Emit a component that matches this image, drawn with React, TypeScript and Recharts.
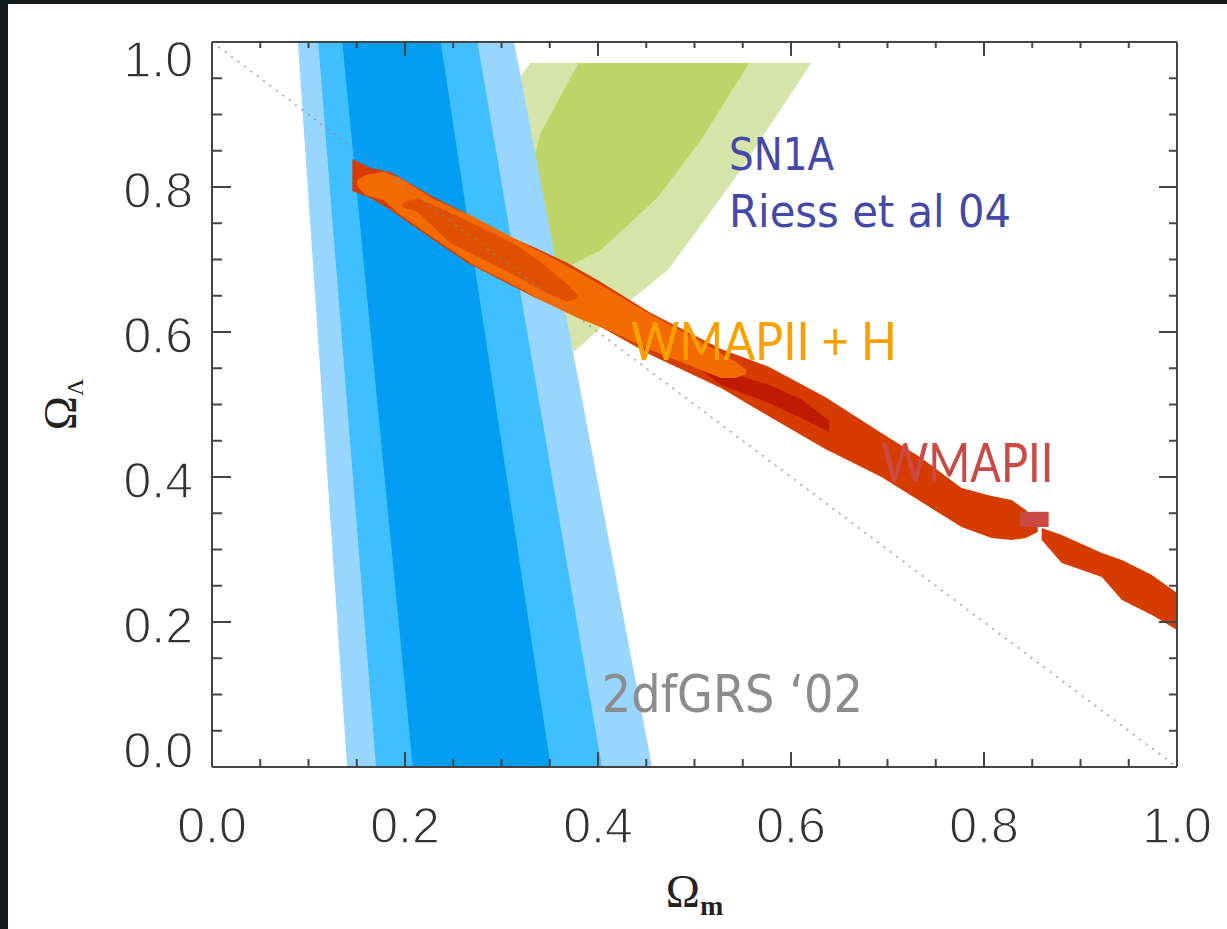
import React from "react";
import { Area, ComposedChart, Label, Line, Scatter, XAxis, YAxis } from "recharts";

// ticks every 0.05, labels on every 0.2 (both axes)
const tickValues = [
  0, 0.05, 0.1, 0.15, 0.2, 0.25, 0.3, 0.35, 0.4, 0.45, 0.5,
  0.55, 0.6, 0.65, 0.7, 0.75, 0.8, 0.85, 0.9, 0.95, 1,
];
const majorTicks = [0, 0.2, 0.4, 0.6, 0.8, 1];

// contour rows: [omega_m, omega_lambda low, omega_lambda high]
type Row = [number, number, number];

// SN1A, Riess et al 04 (2 sigma, 1 sigma)
const snOuter: Row[] = [
  [0.299, 0.917, 0.917], [0.33, 0.776, 0.971], [0.375, 0.572, 0.971],
  [0.434, 0.644, 0.971], [0.4725, 0.6855, 0.971], [0.541, 0.81, 0.971],
  [0.621, 0.971, 0.971],
];
const snInner: Row[] = [
  [0.3146, 0.741, 0.741], [0.3406, 0.7165, 0.8745], [0.3686, 0.69, 0.943],
  [0.38, 0.6975, 0.971], [0.403, 0.713, 0.971], [0.462, 0.786, 0.971],
  [0.5067, 0.865, 0.971], [0.5566, 0.971, 0.971],
];

// 2dFGRS '02 bands (3, 2, 1 sigma)
const grsOuter: Row[] = [[0.089, 1, 1], [0.14, 0, 1], [0.313, 0, 1], [0.456, 0, 0]];
const grsMiddle: Row[] = [[0.11, 1, 1], [0.17, 0, 1], [0.275, 0, 1], [0.404, 0, 0]];
const grsInner: Row[] = [[0.135, 1, 1], [0.208, 0, 1], [0.237, 0, 1], [0.351, 0, 0]];

// WMAPII alone, in two pieces
const wmapLeft: Row[] = [
  [0.1454, 0.7945, 0.8386], [0.1641, 0.7848, 0.8262], [0.1848, 0.7683, 0.8207],
  [0.2295, 0.7269, 0.7862], [0.2648, 0.6952, 0.7628], [0.2991, 0.6717, 0.7366],
  [0.3333, 0.6483, 0.7172], [0.3686, 0.6276, 0.6952], [0.4029, 0.6069, 0.669],
  [0.4548, 0.5683, 0.6262], [0.5275, 0.5228, 0.5766], [0.5774, 0.4835, 0.5517],
  [0.6355, 0.4386, 0.5103], [0.6937, 0.4, 0.4607], [0.7352, 0.3655, 0.4262],
  [0.7767, 0.331, 0.3848], [0.8079, 0.3159, 0.3738], [0.8287, 0.3131, 0.3683],
  [0.8432, 0.3159, 0.3545], [0.8557, 0.3241, 0.3379],
];
const wmapRight: Row[] = [
  [0.8598, 0.3131, 0.3297], [0.8806, 0.2814, 0.32], [0.9221, 0.2621, 0.2952],
  [0.9429, 0.2303, 0.2855], [0.974, 0.2097, 0.2648], [1, 0.189, 0.24],
];
const wmapCore: Row[] = [
  [0.5067, 0.5476, 0.5545], [0.5275, 0.5269, 0.5476], [0.5774, 0.5021, 0.5269],
  [0.6106, 0.4814, 0.5076], [0.6397, 0.4621, 0.4772],
];

// WMAPII + H
const wmapHOuter: Row[] = [
  [0.1506, 0.8014, 0.8097], [0.1589, 0.789, 0.8166], [0.1776, 0.7821, 0.8207],
  [0.1952, 0.7614, 0.8124], [0.2295, 0.7297, 0.7835], [0.271, 0.6924, 0.759],
  [0.3063, 0.669, 0.734], [0.3406, 0.6441, 0.7105], [0.379, 0.6193, 0.683],
  [0.4029, 0.6069, 0.665], [0.4548, 0.5752, 0.624], [0.5067, 0.5476, 0.587],
  [0.5275, 0.5366, 0.5705], [0.5431, 0.5366, 0.5586], [0.5535, 0.5421, 0.5476],
];
const wmapHInner: Row[] = [
  [0.1973, 0.7724, 0.7779], [0.2129, 0.7655, 0.7848], [0.2471, 0.7228, 0.7641],
  [0.2991, 0.6883, 0.731], [0.3167, 0.6759, 0.7186], [0.3406, 0.6579, 0.6966],
  [0.3686, 0.6414, 0.6648], [0.379, 0.6469, 0.651],
];

// small marker next to the WMAPII label
const wmapMarker: Row[] = [[0.837, 0.331, 0.352], [0.867, 0.331, 0.352]];

// flat universe, omega_m + omega_lambda = 1
const flatLine = [{ x: 0, y: 1 }, { x: 1, y: 0 }];

const noteText = ["SN1A", "Riess et al 04", "WMAPII + H", "WMAPII", "2dfGRS \u201802"];
const noteAt = [
  [0.5358, 0.8234], [0.5358, 0.7448], [0.434, 0.5614], [0.6937, 0.3931], [0.404, 0.0759],
];
const noteStyle = [
  { color: "#4449a8", size: 44, width: 105, font: "DejaVu Sans" },
  { color: "#4449a8", size: 44, width: 282, font: "DejaVu Sans" },
  { color: "#f9a000", size: 52, width: 266, font: "Lato" },
  { color: "#cc4a45", size: 54, width: 172, font: "Lato" },
  { color: "#8c8c8c", size: 52, width: 261, font: "DejaVu Sans" },
];

const rows = (r: Row[]) => r.map(([x, lo, hi]) => ({ x, range: [lo, hi] }));

const isMajor = (v: number) => majorTicks.some((m) => Math.abs(m - v) < 1e-6);

const AXIS = "#444";
// thin-looking tick labels: a white outline eats into the glyphs a little
const tickText = {
  fontSize: 50,
  fontFamily: "'Liberation Sans', Arial, sans-serif",
  fill: "#333",
  stroke: "#fff",
  strokeWidth: 1.3,
};

function BottomTick(p: any) {
  const major = isMajor(p.payload.value);
  return (
    <g>
      <line x1={p.x} x2={p.x} y1={p.y} y2={p.y - (major ? 15 : 8)} stroke={AXIS} strokeWidth={2} />
      {major && (
        <text x={p.x} y={p.y + 58} dy="0.36em" textAnchor="middle" {...tickText}>
          {p.payload.value.toFixed(1)}
        </text>
      )}
    </g>
  );
}

function TopTick(p: any) {
  const major = isMajor(p.payload.value);
  return <line x1={p.x} x2={p.x} y1={p.y} y2={p.y + (major ? 14 : 6)} stroke={AXIS} strokeWidth={2} />;
}

function LeftTick(p: any) {
  const v = p.payload.value;
  const major = isMajor(v);
  // end labels are pulled inside the frame
  const shift = v >= 1 ? 17 : v <= 0 ? -17 : 3;
  return (
    <g>
      <line x1={p.x} x2={p.x + (major ? 19 : 10)} y1={p.y} y2={p.y} stroke={AXIS} strokeWidth={2} />
      {major && (
        <text x={p.x - 19} y={p.y + shift} dy="0.36em" textAnchor="end" {...tickText}>
          {v.toFixed(1)}
        </text>
      )}
    </g>
  );
}

function RightTick(p: any) {
  const major = isMajor(p.payload.value);
  return <line x1={p.x} x2={p.x - (major ? 18 : 8)} y1={p.y} y2={p.y} stroke={AXIS} strokeWidth={2} />;
}

function XTitle(p: any) {
  const vb = p.viewBox || { x: 0, y: 0, width: 0 };
  return (
    <text x={vb.x + vb.width / 2} y={vb.y + 140} textAnchor="middle"
      fontFamily="'Liberation Serif', serif" fontSize={46} fill="#222">
      Ω<tspan fontSize={28} fontWeight="bold" dy={8}>m</tspan>
    </text>
  );
}

function YTitle(p: any) {
  const vb = p.viewBox || { x: 0, y: 0, width: 0, height: 0 };
  const cx = vb.x + vb.width - 154;
  const cy = vb.y + vb.height / 2;
  return (
    <text x={cx} y={cy + 18} textAnchor="middle" transform={`rotate(-90, ${cx}, ${cy})`}
      fontFamily="'Liberation Serif', serif" fontSize={46} fill="#222">
      Ω<tspan fontSize={24} dy={7}>Λ</tspan>
    </text>
  );
}

function region(key: string, r: Row[], fill: string) {
  return (
    <Area key={key} data={rows(r)} dataKey="range" type="linear" stroke="none" fill={fill}
      fillOpacity={1} dot={false} activeDot={false} legendType="none" isAnimationActive={false} />
  );
}

export default function App() {
  return (
    <div style={{ width: 1227, height: 929, background: "#101a1b", position: "relative", overflow: "hidden" }}>
      <style>{"body{margin:0;background:#101a1b}"}</style>
      <div style={{ position: "absolute", left: 8, top: 4, width: 1219, height: 925, background: "#fff" }}>
        <ComposedChart width={1219} height={925} margin={{ top: 37, right: 49, bottom: 161, left: 203 }}>
          <XAxis xAxisId={0} dataKey="x" type="number" domain={[0, 1]} allowDataOverflow ticks={tickValues}
            interval={0} height={1} tickSize={0} tickMargin={0} tickLine={false} tick={BottomTick}
            axisLine={{ stroke: AXIS, strokeWidth: 2 }}>
            <Label content={XTitle} />
          </XAxis>
          <XAxis xAxisId="top" orientation="top" dataKey="x" type="number" domain={[0, 1]} allowDataOverflow
            ticks={tickValues} interval={0} height={1} tickSize={0} tickMargin={0} tickLine={false}
            tick={TopTick} axisLine={{ stroke: AXIS, strokeWidth: 2 }} />
          <YAxis yAxisId={0} type="number" domain={[0, 1]} allowDataOverflow ticks={tickValues} interval={0}
            width={1} tickSize={0} tickMargin={0} tickLine={false} tick={LeftTick}
            axisLine={{ stroke: AXIS, strokeWidth: 2 }}>
            <Label content={YTitle} />
          </YAxis>
          <YAxis yAxisId="right" orientation="right" type="number" domain={[0, 1]} allowDataOverflow
            ticks={tickValues} interval={0} width={1} tickSize={0} tickMargin={0} tickLine={false}
            tick={RightTick} axisLine={{ stroke: AXIS, strokeWidth: 2 }} />

          {region("snOuter", snOuter, "#d6e4aa")}
          {region("snInner", snInner, "#bed468")}
          {region("grsOuter", grsOuter, "#99d6ff")}
          {region("grsMiddle", grsMiddle, "#40bfff")}
          {region("grsInner", grsInner, "#039ef4")}
          {region("wmapLeft", wmapLeft, "#d63c00")}
          {region("wmapRight", wmapRight, "#d63c00")}
          {region("wmapCore", wmapCore, "#c01a00")}
          {region("wmapHOuter", wmapHOuter, "#f26a00")}
          {region("wmapHInner", wmapHInner, "#e05000")}
          {region("wmapMarker", wmapMarker, "#cc4a44")}

          <Line data={flatLine} dataKey="y" type="linear" stroke="#8a8a8a" strokeOpacity={0.8}
            strokeWidth={1.6} strokeDasharray="2 6" dot={false} activeDot={false} legendType="none"
            isAnimationActive={false} />

          {noteText.map((t, i) => (
            <Scatter key={t} data={[{ x: noteAt[i][0], y: noteAt[i][1] }]} dataKey="y" legendType="none"
              isAnimationActive={false}
              shape={(p: any) => (
                <text x={p.cx} y={p.cy} fontSize={noteStyle[i].size} fill={noteStyle[i].color}
                  fontFamily={noteStyle[i].font} textLength={noteStyle[i].width}
                  lengthAdjust="spacingAndGlyphs">
                  {t}
                </text>
              )} />
          ))}
        </ComposedChart>
      </div>
    </div>
  );
}
